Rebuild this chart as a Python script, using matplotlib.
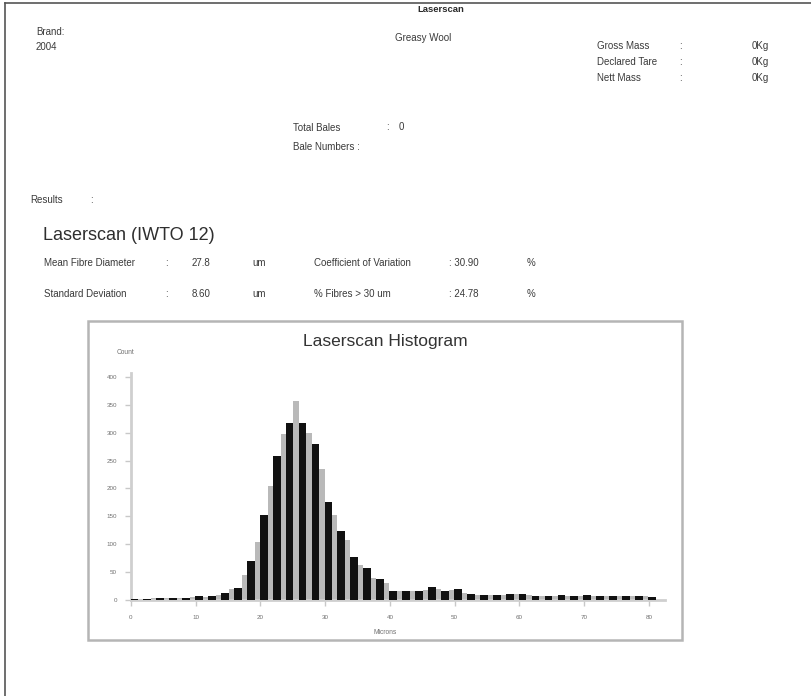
import matplotlib
matplotlib.use("Agg")
import matplotlib.pyplot as plt
from matplotlib.patches import Rectangle
from matplotlib.lines import Line2D

plt.rcParams['font.family'] = ['Liberation Sans', 'DejaVu Sans']

# Laserscan histogram: fibre count per 1 micron class
microns = list(range(0, 81))
counts = [2, 2, 2, 3, 3, 3, 4, 4, 4, 5,
          7, 6, 7, 9, 12, 20, 22, 44, 70, 104,
          152, 204, 258, 298, 317, 357, 317, 300, 280, 234,
          176, 152, 123, 108, 77, 62, 58, 40, 38, 30,
          17, 17, 17, 16, 16, 18, 24, 20, 17, 18,
          19, 12, 10, 9, 9, 9, 9, 9, 10, 10,
          11, 9, 8, 8, 8, 8, 9, 8, 8, 8,
          9, 8, 8, 8, 8, 8, 8, 8, 8, 7,
          5]
y_ticks = [0, 50, 100, 150, 200, 250, 300, 350, 400]
x_ticks = [0, 10, 20, 30, 40, 50, 60, 70, 80]

# Report header values
brand_label = "Brand:"
season = "2004"
wool_type = "Greasy Wool"
mass_labels = ["Gross Mass", "Declared Tare", "Nett Mass"]
mass_values = ["0Kg", "0Kg", "0Kg"]
mean_diameter = "27.8"
std_dev = "8.60"
coef_var = "30.90"
pct_over_30 = "24.78"

W, H = 812, 696
fig = plt.figure(figsize=(W / 100, H / 100), dpi=100)
fig.patch.set_facecolor("white")


def fx(x):
    return x / W


def fy(y):
    return 1 - y / H


def put(x, y, s, size=7.0, color="#3a3a3a", **kw):
    fig.text(fx(x), fy(y), s, fontsize=size, color=color, va="center", **kw)


# page frame
fig.add_artist(Line2D([fx(5), fx(5)], [fy(3), fy(696)], color="#555555", lw=1.2))
fig.add_artist(Line2D([fx(5), fx(812)], [fy(3), fy(3)], color="#555555", lw=1.2))

# header
put(441, 9, "Laserscan", size=6.8, color="#2a2a2a", ha="center", fontweight="bold")
put(36, 32, brand_label)
put(36, 47, season)
put(395, 38, wool_type)
for i, (lab, val) in enumerate(zip(mass_labels, mass_values)):
    yy = 46 + i * 16
    put(597, yy, lab)
    put(679, yy, ":")
    put(752, yy, val)

put(293, 128, "Total Bales")
put(386, 127, ":")
put(399, 127, "0")
put(293, 147, "Bale Numbers :")

put(30, 200, "Results")
put(90, 200, ":")
put(43, 235, "Laserscan (IWTO 12)", size=13, color="#2e2e2e")

put(44, 263, "Mean Fibre Diameter")
put(165, 263, ":")
put(192, 263, mean_diameter)
put(252, 263, "um")
put(314, 263, "Coefficient of Variation")
put(449, 263, ": " + coef_var)
put(527, 263, "%")

put(44, 294, "Standard Deviation")
put(165, 294, ":")
put(192, 294, std_dev)
put(252, 294, "um")
put(314, 294, "% Fibres > 30 um")
put(449, 294, ": " + pct_over_30)
put(527, 294, "%")

# chart frame
fig.add_artist(Rectangle((fx(88), fy(640)), fx(682) - fx(88), fy(321) - fy(640),
                         transform=fig.transFigure, fill=False,
                         edgecolor="#b5b5b5", lw=1.8))
put(385, 341, "Laserscan Histogram", size=12.5, color="#333333", ha="center")
put(117, 353, "Count", size=4.8, color="#707070")
put(385, 632, "Microns", size=4.8, color="#707070", ha="center")

# histogram axes
ax_l, ax_r, ax_t, ax_b = 131, 665, 373, 600
ax = fig.add_axes([fx(ax_l), fy(ax_b), (ax_r - ax_l) / W, (ax_b - ax_t) / H])
ax.set_xlim(0, 82.5)
ax.set_ylim(0, 407)

even_x = [m + 0.5 for m in microns if m % 2 == 0]
even_y = [c for m, c in zip(microns, counts) if m % 2 == 0]
odd_x = [m + 0.5 for m in microns if m % 2 == 1]
odd_y = [c for m, c in zip(microns, counts) if m % 2 == 1]
ax.bar(odd_x, odd_y, width=0.8, color="#b9b9b9", linewidth=0, zorder=2)
ax.bar(even_x, even_y, width=1.2, color="#111111", linewidth=0, zorder=3)

for side in ("top", "right"):
    ax.spines[side].set_visible(False)
for side in ("left", "bottom"):
    ax.spines[side].set_color("#cfcfcf")
    ax.spines[side].set_linewidth(2)

ax.set_yticks(y_ticks)
ax.set_xticks(x_ticks)
ax.tick_params(axis="both", colors="#c8c8c8", length=4, width=1,
               labelsize=4.5, labelcolor="#707070")
ax.tick_params(axis="x", pad=7)
ax.tick_params(axis="y", pad=6)
ax.patch.set_alpha(0)

fig.savefig("out.png", dpi=100, facecolor="white")
